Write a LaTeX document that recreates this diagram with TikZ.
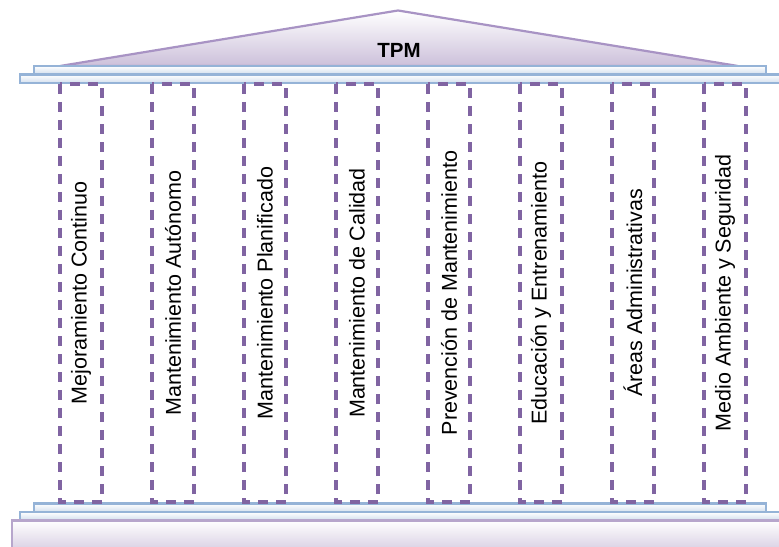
\documentclass[tikz,border=0pt]{standalone}
\usepackage{fontspec}
\setmainfont{Liberation Sans}
\begin{document}
\begin{tikzpicture}[x=1bp,y=-1bp,
  roof/.style={draw=roofline, line width=2.2bp, top color=white, bottom color=rooffill},
  slab/.style={draw=slabline, line width=2.6bp, top color=white, bottom color=slabfill},
  basebox/.style={draw=baseline, line width=2.6bp, top color=white, bottom color=rooffill},
  pillar/.style={draw=pillarline, line width=3.2bp, dash pattern=on 10bp off 8bp, rectangle,
     rotate=90, minimum width=418bp, minimum height=42bp, inner sep=0pt,
     font=\fontsize{21.5bp}{25bp}\selectfont, text=black},
  title/.style={font=\bfseries\fontsize{20.5bp}{24bp}\selectfont, text=black}
]
\definecolor{roofline}{HTML}{A893C4}
\definecolor{rooffill}{HTML}{CCC0DA}
\definecolor{slabline}{HTML}{95B3D7}
\definecolor{slabfill}{HTML}{D3DFEE}
\definecolor{baseline}{HTML}{B7A6CC}
\definecolor{pillarline}{HTML}{8064A2}
\useasboundingbox (0,0) rectangle (779,547);
\clip (0,0) rectangle (779,547);
% roof
\path[roof] (60,66) -- (398,10.5) -- (738,66) -- cycle;
\node[title] (tpm) at (399,50) {TPM};
% top slabs
\path[slab] (34,66) rectangle (766,74);
\path[slab] (20,74.5) rectangle (800,83);
% bottom slabs and base
\path[slab] (34,503.5) rectangle (766,512);
\path[slab] (20,512) rectangle (800,520);
\path[basebox] (12,520.5) rectangle (800,560);
% pillars
\node[pillar] (c1) at (81,293) {Mejoramiento Continuo};
\node[pillar] (c2) at (173,293) {Mantenimiento Autónomo};
\node[pillar] (c3) at (265,293) {Mantenimiento Planificado};
\node[pillar] (c4) at (357,293) {Mantenimiento de Calidad};
\node[pillar] (c5) at (449,293) {Prevención de Mantenimiento};
\node[pillar] (c6) at (541,293) {Educación y Entrenamiento};
\node[pillar] (c7) at (633,293) {Áreas Administrativas};
\node[pillar] (c8) at (725,293) {Medio Ambiente y Seguridad};
\end{tikzpicture}
\end{document}
